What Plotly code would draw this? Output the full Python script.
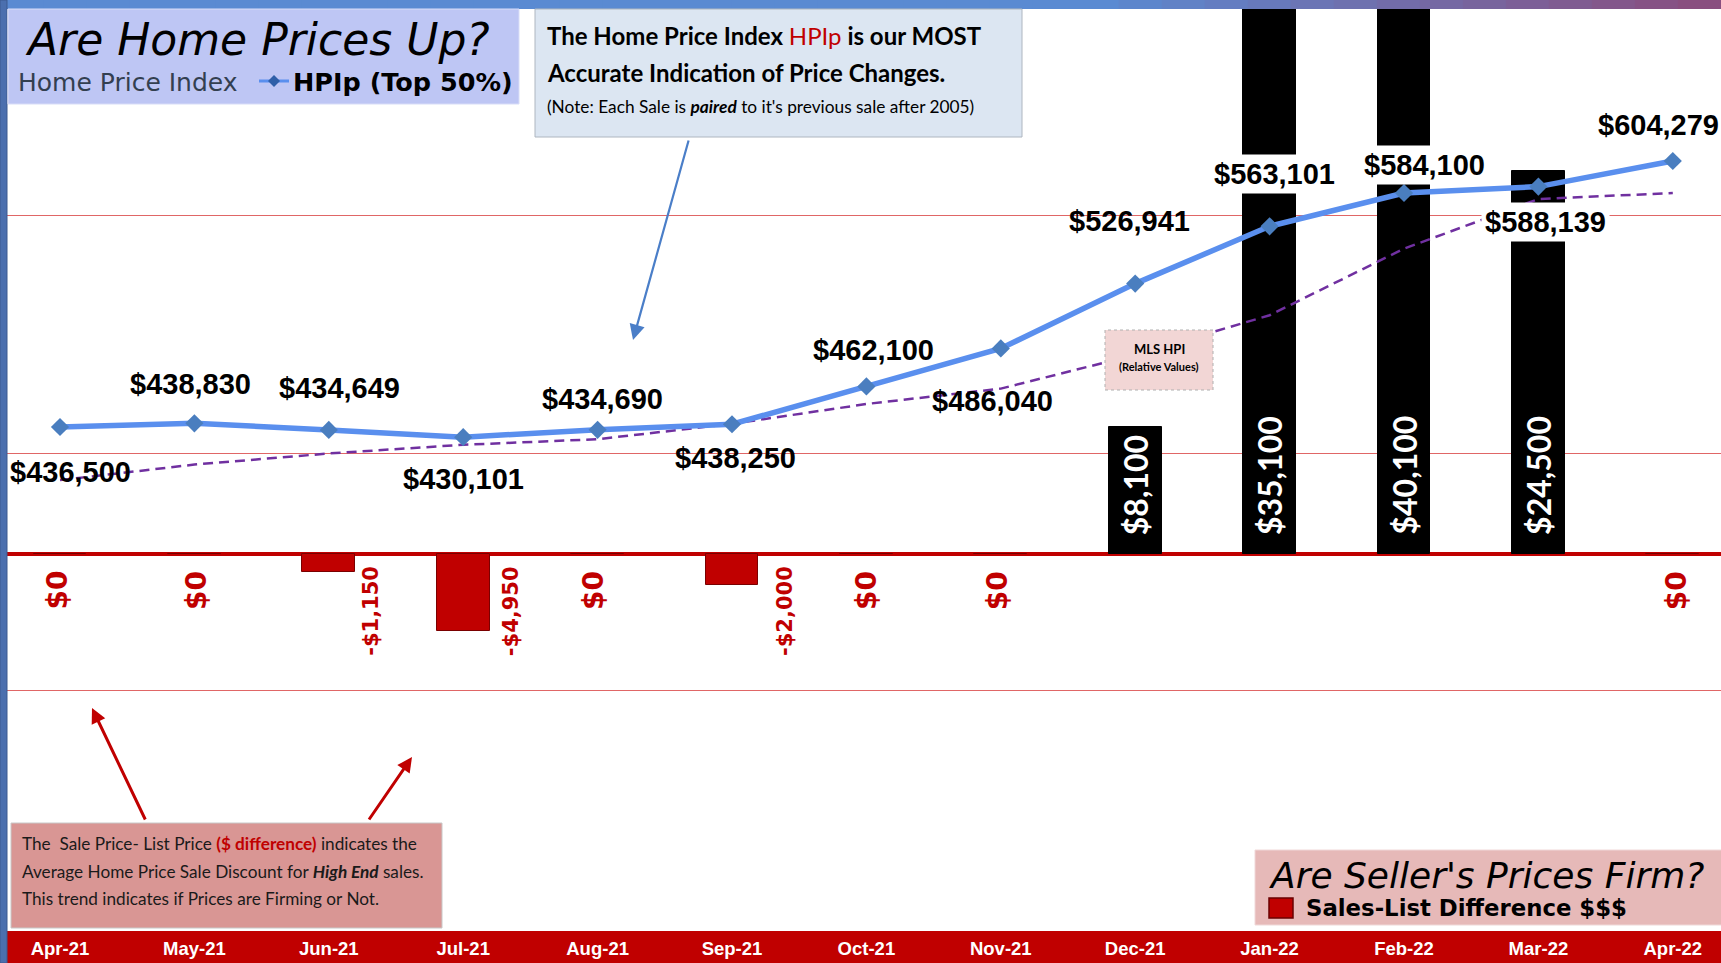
import plotly.graph_objects as go

# ---------------- data ----------------
months = ["Apr-21", "May-21", "Jun-21", "Jul-21", "Aug-21", "Sep-21", "Oct-21",
          "Nov-21", "Dec-21", "Jan-22", "Feb-22", "Mar-22", "Apr-22"]
hpip = [436500, 438830, 434649, 430101, 434690, 438250, 462100,
        486040, 526941, 563101, 584100, 588139, 604279]
mls_hpi = [403000, 412800, 419800, 425300, 428800, 438500, 451000,
           460700, 482000, 507000, 549000, 580300, 584100]
sales_list_diff = [0, 0, -1150, -4950, 0, -2000, 0, 0, 8100, 35100, 40100, 24500, 0]

# ---------------- geometry / style ----------------
W, H = 1721, 963
ML, MT, MB, MR = 7, 9, 32, 0
PW, PH = W - ML - MR, H - MT - MB
PB = H - MB

def px(x):
    return (x - ML) / PW

def py(y):
    return (PB - y) / PH

X0PIX, XSTEP = 60.0, 134.4
x_range = [(ML - X0PIX) / XSTEP, (W - MR - X0PIX) / XSTEP]
price_range = [118577, 700174]
bar_scale = 64.0
zero_pix = 554
bar_range = [-(PB - zero_pix) * bar_scale, (zero_pix - MT) * bar_scale]

ARIAL = "Liberation Sans, Arial, sans-serif"
CAL = "Lato, Carlito, Calibri, sans-serif"
VER = "DejaVu Sans, Verdana, sans-serif"
RED = "#C00000"

# label offsets (pixels) for the HPIp value labels
hp_dx = [10, -4, 11, 0, 5, 3, 7, -8, -6, 5, 20, 7, -14]
hp_dy = [-45, 39, 42, -42, 31, -34, 36, -53, 63, 52, 28, -35, 36]
hp_bg = [False] * 9 + [True, True, True, False]
# offsets for the difference labels
diff_dx = [-3, 2, 42, 48, -4, 53, 0, -3, 0, 0, 0, 0, 4]

fig = go.Figure()

bar_colors = ["#000000" if v > 0 else RED for v in sales_list_diff]
bar_lines = ["#000000" if v > 0 else "#7A0000" for v in sales_list_diff]
fig.add_trace(go.Bar(
    x=list(range(len(months))), y=sales_list_diff, yaxis="y",
    width=0.392, marker=dict(color=bar_colors, line=dict(color=bar_lines, width=1)),
    hoverinfo="skip", showlegend=False,
))
fig.add_trace(go.Scatter(
    x=list(range(len(months))), y=mls_hpi, yaxis="y2", mode="lines",
    line=dict(color="#7030A0", width=2.5, dash="10px,6px"),
    hoverinfo="skip", showlegend=False,
))
fig.add_trace(go.Scatter(
    x=list(range(len(months))), y=hpip, yaxis="y2", mode="lines+markers",
    line=dict(color="#5A8FEE", width=5.5),
    marker=dict(symbol="diamond", size=14, color="#4A7EBF"),
    hoverinfo="skip", showlegend=False,
))

annotations = []
# HPIp value labels
for i, v in enumerate(hpip):
    annotations.append(dict(
        x=i, y=v, xref="x", yref="y2", xshift=hp_dx[i], yshift=hp_dy[i],
        text=f"<b>${v:,.0f}</b>", showarrow=False,
        font=dict(family=ARIAL, size=29, color="#000000"),
        bgcolor="#FFFFFF" if hp_bg[i] else "rgba(0,0,0,0)", borderpad=3,
        xanchor="center", yanchor="middle",
    ))
# difference labels
for i, d in enumerate(sales_list_diff):
    if d > 0:
        annotations.append(dict(
            x=i, y=0, xref="x", yref="y", yshift=17, textangle=-90,
            text=f"<b>${d:,.0f}</b>", showarrow=False,
            font=dict(family=CAL, size=32, color="#FFFFFF"),
            xanchor="center", yanchor="bottom",
        ))
    else:
        txt = "$0" if d == 0 else f"-${abs(d):,.0f}"
        annotations.append(dict(
            x=i, y=0, xref="x", yref="y", xshift=diff_dx[i],
            yshift=-15 if d == 0 else -10, textangle=-90,
            text=f"<b>{txt}</b>", showarrow=False,
            font=dict(family=VER, size=28 if d == 0 else 21, color=RED),
            xanchor="center", yanchor="top",
        ))

shapes = []
# top gradient band
nseg = 40
c1 = (0x5A, 0x8A, 0xD2)
c2 = (0x8B, 0x4C, 0x7C)
for k in range(nseg):
    xa = W * k / nseg
    xb = W * (k + 1) / nseg
    t = min(1.0, max(0.0, ((xa + xb) / 2 - 1100) / 621))
    col = "rgb(%d,%d,%d)" % tuple(round(c1[j] + (c2[j] - c1[j]) * t) for j in range(3))
    shapes.append(dict(type="rect", xref="paper", yref="paper",
                       x0=px(xa), x1=px(xb + 1), y0=py(9), y1=py(0),
                       fillcolor=col, line=dict(width=0), layer="above"))
# left strip
shapes.append(dict(type="rect", xref="paper", yref="paper", x0=px(0), x1=px(7),
                   y0=py(H), y1=py(0), fillcolor="#4B6FAE",
                   line=dict(color="#3C5A90", width=1), layer="above"))
# title box
shapes.append(dict(type="rect", xref="paper", yref="paper", x0=px(8), x1=px(519),
                   y0=py(104), y1=py(9), fillcolor="#BEC6F4",
                   line=dict(color="#D8DDF8", width=1), layer="above"))
# HPIp note box
shapes.append(dict(type="rect", xref="paper", yref="paper", x0=px(535), x1=px(1022),
                   y0=py(137), y1=py(9), fillcolor="#DCE6F2",
                   line=dict(color="#AEB6C0", width=1), layer="above"))
# bottom-left note box
shapes.append(dict(type="rect", xref="paper", yref="paper", x0=px(11), x1=px(442),
                   y0=py(928), y1=py(823), fillcolor="#D99694",
                   line=dict(color="#C8C8C8", width=1), layer="above"))
# bottom-right legend box
shapes.append(dict(type="rect", xref="paper", yref="paper", x0=px(1255), x1=px(1722),
                   y0=py(925), y1=py(850), fillcolor="#E6B9B8",
                   line=dict(color="#F0D8D8", width=1), layer="above"))
# MLS HPI box
shapes.append(dict(type="rect", xref="paper", yref="paper", x0=px(1105), x1=px(1213),
                   y0=py(390), y1=py(330), fillcolor="#F2D6D5",
                   line=dict(color="#B0B0B0", width=1, dash="dot"), layer="above"))
# legend marker: HPIp line + diamond
shapes.append(dict(type="line", xref="paper", yref="paper", x0=px(259), x1=px(289),
                   y0=py(81), y1=py(81), line=dict(color="#5A8FEE", width=3), layer="above"))
shapes.append(dict(type="path", xref="paper", yref="paper",
                   path="M %f,%f L %f,%f L %f,%f L %f,%f Z" % (
                       px(274), py(75), px(280), py(81), px(274), py(87), px(268), py(81)),
                   fillcolor="#2F5FA8", line=dict(width=0), layer="above"))
# legend marker: red square
shapes.append(dict(type="rect", xref="paper", yref="paper", x0=px(1269), x1=px(1293),
                   y0=py(918), y1=py(898), fillcolor=RED,
                   line=dict(color="#6A0000", width=1.5), layer="above"))

# titles / texts
annotations += [
    dict(x=px(257), y=py(40), xref="paper", yref="paper", showarrow=False,
         text="<i>Are Home Prices Up?</i>", font=dict(family=VER, size=44, color="#000000"),
         xanchor="center", yanchor="middle"),
    dict(x=px(16), y=py(82), xref="paper", yref="paper", showarrow=False,
         text="Home Price Index", font=dict(family=VER, size=25, color="#333F50"),
         xanchor="left", yanchor="middle"),
    dict(x=px(291), y=py(82), xref="paper", yref="paper", showarrow=False,
         text="<b>HPIp (Top 50%)</b>", font=dict(family=VER, size=25.5, color="#000000"),
         xanchor="left", yanchor="middle"),
    dict(x=px(545), y=py(35), xref="paper", yref="paper", showarrow=False,
         text="<b>The Home Price Index </b><span style='color:#C00000'>HPIp</span><b> is our MOST</b>",
         font=dict(family=CAL, size=24, color="#000000"), xanchor="left", yanchor="middle"),
    dict(x=px(545), y=py(73), xref="paper", yref="paper", showarrow=False,
         text="<b>Accurate Indication of Price Changes.</b>",
         font=dict(family=CAL, size=24, color="#000000"), xanchor="left", yanchor="middle"),
    dict(x=px(545), y=py(106), xref="paper", yref="paper", showarrow=False,
         text="(Note: Each Sale is <b><i>paired</i></b> to it's previous sale after 2005)",
         font=dict(family=CAL, size=17.3, color="#000000"), xanchor="left", yanchor="middle"),
    dict(x=px(20), y=py(843), xref="paper", yref="paper", showarrow=False,
         text="The  Sale Price- List Price <span style='color:#C00000'><b>($ difference)</b></span> indicates the",
         font=dict(family=CAL, size=17.2, color="#1A1A1A"), xanchor="left", yanchor="middle"),
    dict(x=px(20), y=py(871), xref="paper", yref="paper", showarrow=False,
         text="Average Home Price Sale Discount for <b><i>High End</i></b> sales.",
         font=dict(family=CAL, size=17.2, color="#1A1A1A"), xanchor="left", yanchor="middle"),
    dict(x=px(20), y=py(898), xref="paper", yref="paper", showarrow=False,
         text="This trend indicates if Prices are Firming or Not.",
         font=dict(family=CAL, size=17.2, color="#1A1A1A"), xanchor="left", yanchor="middle"),
    dict(x=px(1159), y=py(349), xref="paper", yref="paper", showarrow=False,
         text="<b>MLS HPI</b>", font=dict(family=CAL, size=13, color="#000000"),
         xanchor="center", yanchor="middle"),
    dict(x=px(1159), y=py(366), xref="paper", yref="paper", showarrow=False,
         text="<b>(Relative Values)</b>", font=dict(family=CAL, size=11, color="#000000"),
         xanchor="center", yanchor="middle"),
    dict(x=px(1267), y=py(875), xref="paper", yref="paper", showarrow=False,
         text="<i>Are Seller's Prices Firm?</i>", font=dict(family=VER, size=36, color="#000000"),
         xanchor="left", yanchor="middle"),
    dict(x=px(1304), y=py(908), xref="paper", yref="paper", showarrow=False,
         text="<b>Sales-List Difference $$$</b>", font=dict(family=VER, size=22.8, color="#000000"),
         xanchor="left", yanchor="middle"),
    # arrows
    dict(x=px(633), y=py(340), xref="paper", yref="paper", ax=56, ay=-201,
         showarrow=True, arrowhead=2, arrowsize=1.4, arrowwidth=2.2, arrowcolor="#4A7EC8",
         text=""),
    dict(x=px(92), y=py(708), xref="paper", yref="paper", ax=54, ay=113,
         showarrow=True, arrowhead=2, arrowsize=1, arrowwidth=3, arrowcolor=RED, text=""),
    dict(x=px(412), y=py(757), xref="paper", yref="paper", ax=-44, ay=64,
         showarrow=True, arrowhead=2, arrowsize=1, arrowwidth=3, arrowcolor=RED, text=""),
]

fig.update_layout(
    width=W, height=H,
    margin=dict(l=ML, r=MR, t=MT, b=MB, pad=0),
    paper_bgcolor=RED, plot_bgcolor="#FFFFFF",
    showlegend=False, bargap=0,
    xaxis=dict(range=x_range, tickmode="array", tickvals=list(range(len(months))),
               ticktext=months, showgrid=False, zeroline=False, showline=False,
               ticks="", fixedrange=True, ticklabelstandoff=4,
               tickfont=dict(family=ARIAL, size=18.5, color="#FFFFFF", weight="bold")),
    yaxis=dict(range=bar_range, showgrid=False, showticklabels=False, ticks="",
               zeroline=True, zerolinecolor=RED, zerolinewidth=4, showline=False),
    yaxis2=dict(range=price_range, overlaying="y", side="right", showticklabels=False,
                ticks="", tickmode="array", tickvals=[270000, 420000, 570000],
                showgrid=True, gridcolor="#E06666", gridwidth=1, zeroline=False,
                showline=False),
    shapes=shapes, annotations=annotations,
)

fig.write_html("out.html", config={"displayModeBar": False},
               post_script="document.body.style.margin='0';")
